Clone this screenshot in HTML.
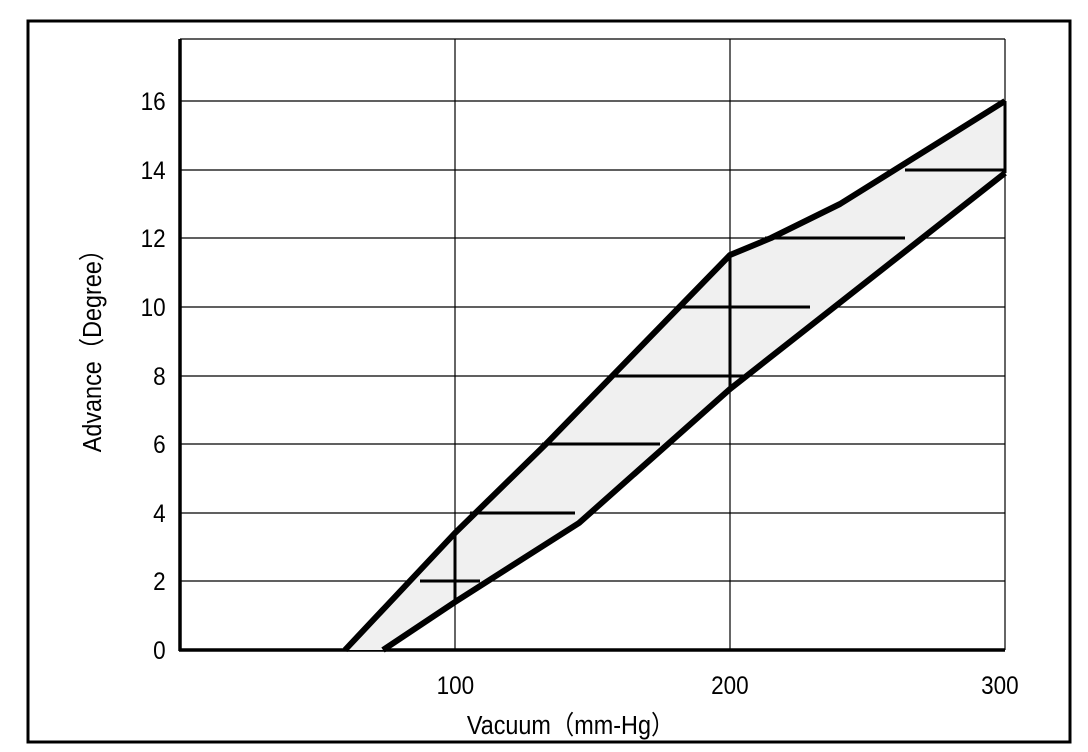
<!DOCTYPE html><html><head><style>body{margin:0;background:#fff}svg{display:block}text{font-family:"Liberation Sans",sans-serif;fill:#000}</style></head><body>
<svg width="1088" height="752" viewBox="0 0 1088 752">
<rect x="28" y="21" width="1042" height="721" fill="none" stroke="#000" stroke-width="3"/>
<g stroke="#000" stroke-width="1.2">
<line x1="180" y1="39" x2="1005" y2="39"/>
<line x1="180" y1="101" x2="1005" y2="101"/><line x1="180" y1="170" x2="1005" y2="170"/>
<line x1="180" y1="238" x2="1005" y2="238"/><line x1="180" y1="307" x2="1005" y2="307"/>
<line x1="180" y1="376" x2="1005" y2="376"/><line x1="180" y1="444" x2="1005" y2="444"/>
<line x1="180" y1="513" x2="1005" y2="513"/><line x1="180" y1="581" x2="1005" y2="581"/>
<line x1="455" y1="39" x2="455" y2="650"/><line x1="730" y1="39" x2="730" y2="650"/><line x1="1005" y1="39" x2="1005" y2="650"/>
</g>
<line x1="180" y1="39" x2="180" y2="651" stroke="#000" stroke-width="3.5"/>
<line x1="179" y1="650" x2="1005" y2="650" stroke="#000" stroke-width="3.5"/>
<polygon points="345,650 455,533 546,444 730,255 771,238 840,204 1005,101 1005,173 730,389 579,523 455,602 383,650" fill="#f0f0f0"/>
<g stroke="#000" stroke-width="3" fill="none">
<line x1="420" y1="581" x2="480" y2="581"/><line x1="470" y1="513" x2="575" y2="513"/>
<line x1="542" y1="444" x2="660" y2="444"/><line x1="612" y1="376" x2="745" y2="376"/>
<line x1="682" y1="307" x2="810" y2="307"/><line x1="765" y1="238" x2="905" y2="238"/>
<line x1="905" y1="170" x2="1005" y2="170"/>
<line x1="455" y1="533" x2="455" y2="602"/><line x1="730" y1="255" x2="730" y2="389"/><line x1="1005" y1="101" x2="1005" y2="173"/>
</g>
<g stroke="#000" stroke-width="6" fill="none" stroke-linejoin="round">
<polyline points="345,650 455,533 546,444 730,255 771,238 840,204 1005,101"/>
<polyline points="383,650 455,602 579,523 730,389 1005,173"/>
</g>
<g font-size="25" text-anchor="end" transform="scale(0.9,1)">
<text x="184" y="110">16</text><text x="184" y="179">14</text><text x="184" y="247">12</text><text x="184" y="316">10</text>
<text x="184" y="385">8</text><text x="184" y="453">6</text><text x="184" y="522">4</text><text x="184" y="590">2</text><text x="184" y="659">0</text>
<text x="506" y="694" text-anchor="middle">100</text><text x="811" y="694" text-anchor="middle">200</text><text x="1111" y="694" text-anchor="middle">300</text>
<text x="634" y="734" text-anchor="middle" font-size="26">Vacuum（mm-Hg）</text>
</g>
<text font-size="26" text-anchor="middle" transform="translate(101,345) rotate(-90) scale(0.9,1)">Advance（Degree）</text>
</svg></body></html>
